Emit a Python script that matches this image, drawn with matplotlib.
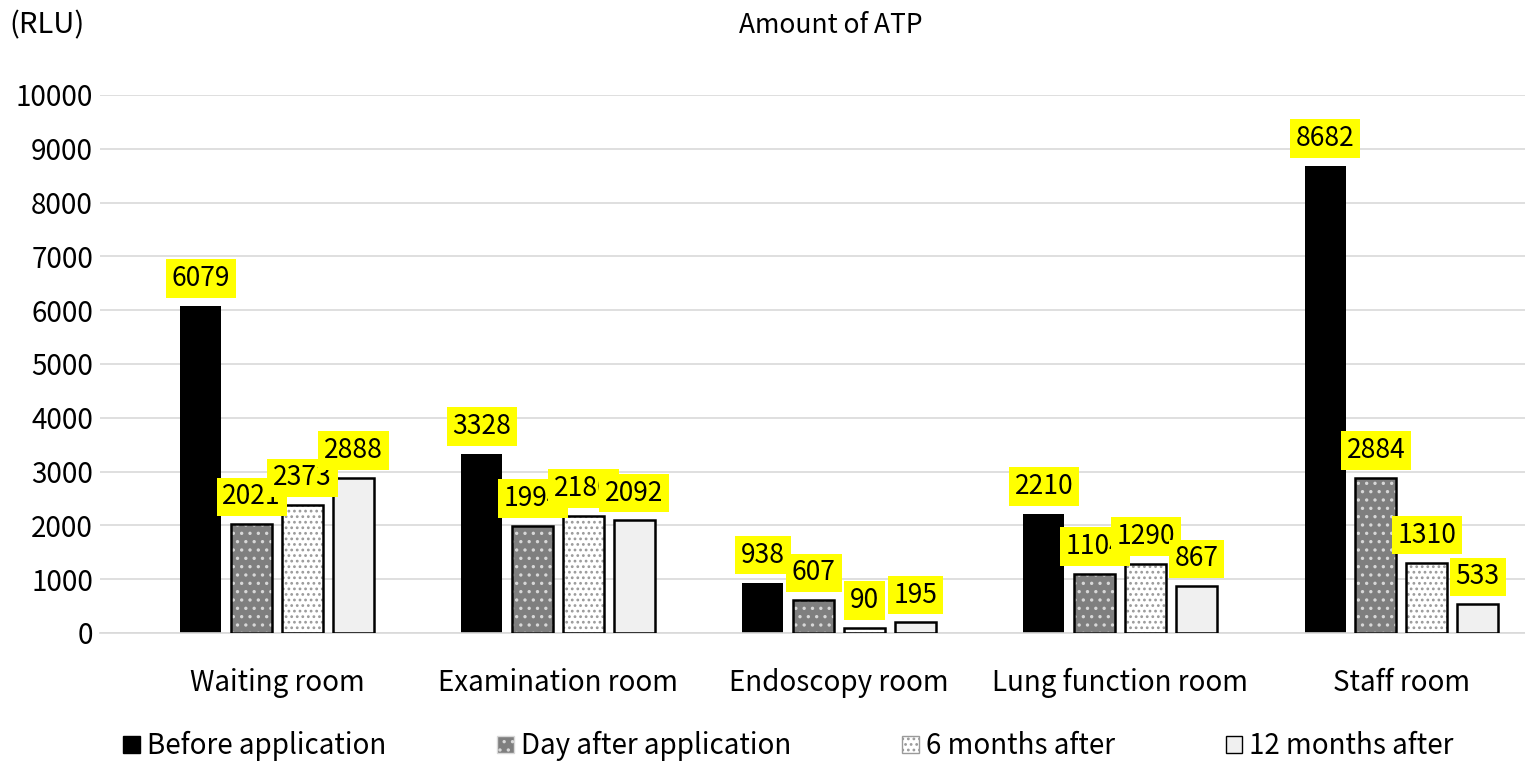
import matplotlib
matplotlib.use('Agg')
import matplotlib.pyplot as plt
from matplotlib.patches import Patch
import numpy as np

# データ
rooms = ['Waiting room', 'Examination room', 'Endoscopy room', 'Lung function room', 'Staff room']
series_names = ['Before application', 'Day after application', '6 months after', '12 months after']
before = [6079, 3328, 938, 2210, 8682]
day_after = [2021, 1994, 607, 1104, 2884]
six_months = [2373, 2180, 90, 1290, 1310]
twelve_months = [2888, 2092, 195, 867, 533]
yticks = list(range(0, 10001, 1000))

plt.rcParams['font.family'] = ['Noto Sans CJK JP', 'DejaVu Sans']
plt.rcParams['hatch.linewidth'] = 1.2

fig = plt.figure(figsize=(15.25, 7.63), dpi=100)
ax = fig.add_axes([0.0656, 0.1704, 0.9344, 0.7051])

x = np.arange(len(rooms))
width = 0.146
step = 0.181
offsets = (np.arange(4) - 1.5) * step

values = [before, day_after, six_months, twelve_months]
# 塗りつぶしスタイル
fills = [
    dict(color='black', hatch=None, hcolor=None),
    dict(color='#7f7f7f', hatch='..', hcolor='#d8d8d8'),
    dict(color='white', hatch='...', hcolor='#9a9a9a'),
    dict(color='#f0f0f0', hatch=None, hcolor=None),
]

for i, (vals, f) in enumerate(zip(values, fills)):
    pos = x + offsets[i]
    if f['hatch']:
        ax.bar(pos, vals, width, color=f['color'], edgecolor=f['hcolor'],
               hatch=f['hatch'], linewidth=0, zorder=2)
    else:
        ax.bar(pos, vals, width, color=f['color'], linewidth=0, zorder=2)
    if i > 0:
        ax.bar(pos, vals, width, fill=False, edgecolor='black', linewidth=1.8, zorder=3)

# データラベル（黄色背景、後のラベルが前のラベルに重なる）
for i, vals in enumerate(values):
    for j, v in enumerate(vals):
        ax.annotate(str(v), (x[j] + offsets[i], v), xytext=(0, 10),
                    textcoords='offset points', ha='center', va='bottom',
                    fontsize=19, zorder=5,
                    bbox=dict(boxstyle='square,pad=0.22', facecolor='#ffff00', edgecolor='none'))

ax.set_ylim(0, 10000)
ax.set_xlim(-0.63, 4.44)
ax.set_yticks(yticks)
ax.set_xticks(x)
ax.set_xticklabels(rooms)
ax.tick_params(axis='both', length=0, labelsize=20)
ax.tick_params(axis='x', pad=25)
ax.tick_params(axis='y', pad=5)
ax.grid(axis='y', color='#d9d9d9', linewidth=1.2, zorder=0)
ax.set_axisbelow(True)
for s in ['top', 'right', 'left']:
    ax.spines[s].set_visible(False)
ax.spines['bottom'].set_color('#d9d9d9')
ax.spines['bottom'].set_linewidth(1.2)

fig.text(0.006, 0.967, '(RLU)', fontsize=21, va='center', ha='left')
fig.text(0.545, 0.967, 'Amount of ATP', fontsize=19, va='center', ha='center')

handles = []
for f in fills:
    handles.append(Patch(facecolor=f['color'],
                         edgecolor=f['hcolor'] if f['hatch'] else 'black',
                         hatch=f['hatch'], linewidth=1.0))
leg = fig.legend(handles, series_names, loc='center', bbox_to_anchor=(0.517, 0.022),
                 ncol=4, frameon=False, fontsize=20, handlelength=0.6, handleheight=0.6,
                 handletextpad=0.25, columnspacing=4.0)

fig.savefig('out.png', dpi=100)
